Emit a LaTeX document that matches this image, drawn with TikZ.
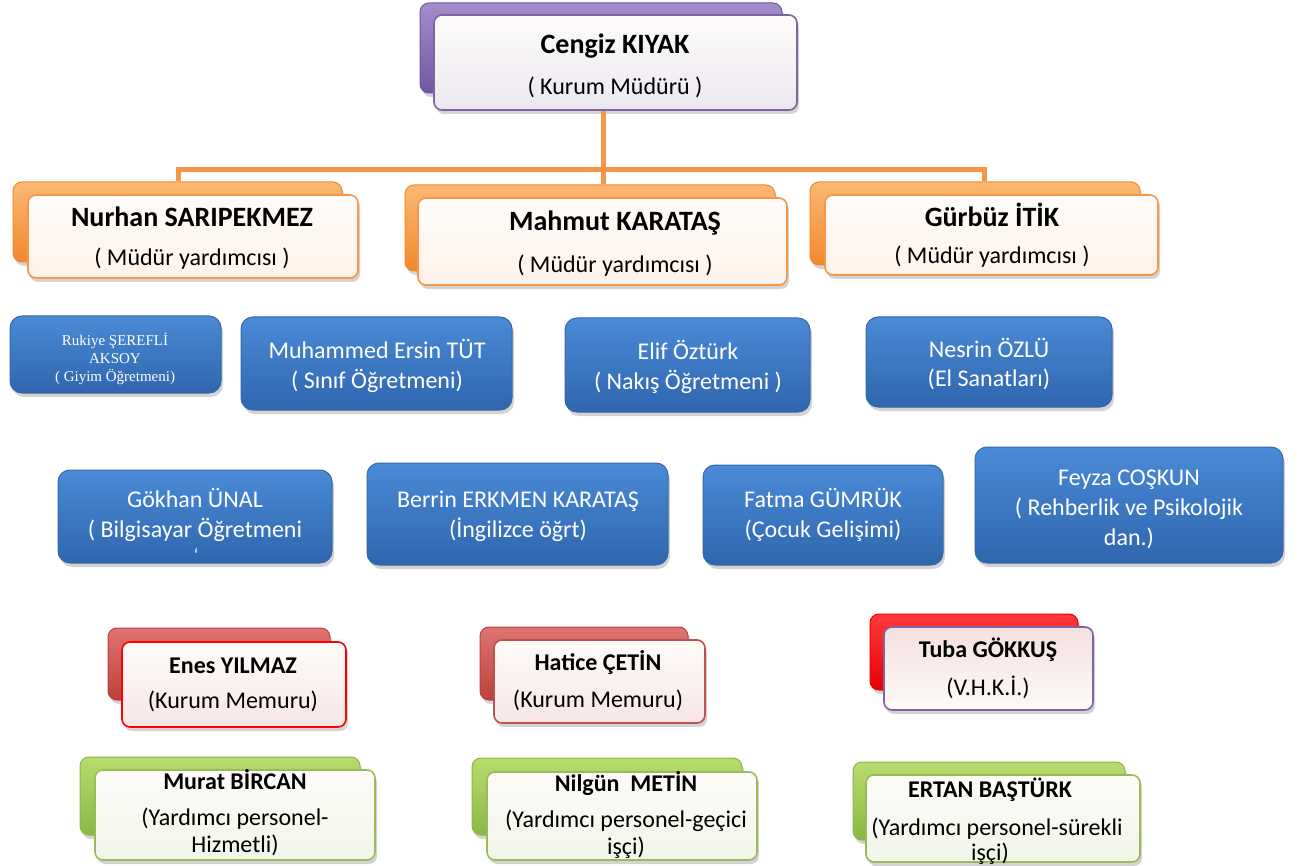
\documentclass[tikz,border=0pt]{standalone}
\usepackage{fontspec}
\setmainfont{Carlito}
\newfontfamily\timesfont{Liberation Serif}
\usetikzlibrary{shadows}
\definecolor{blueT}{HTML}{4A8AD6}
\definecolor{blueD}{HTML}{2F66AE}
\definecolor{blueE}{HTML}{3767A8}
\definecolor{purT}{HTML}{A58DCB}
\definecolor{purD}{HTML}{7156A3}
\definecolor{purE}{HTML}{8064A2}
\definecolor{orT}{HTML}{FBB874}
\definecolor{orD}{HTML}{F2882E}
\definecolor{orE}{HTML}{F79646}
\definecolor{redT}{HTML}{DE7471}
\definecolor{redD}{HTML}{BD403D}
\definecolor{redE}{HTML}{C0504D}
\definecolor{brT}{HTML}{FF3A3A}
\definecolor{brD}{HTML}{E80000}
\definecolor{grT}{HTML}{B8DC6E}
\definecolor{grD}{HTML}{88B843}
\definecolor{grE}{HTML}{9BBB59}
\definecolor{frW}{HTML}{FDFBF9}
\tikzset{
  x=1pt, y=-1pt,
  conn/.style={draw=orE, line width=5pt},
  shad/.style={drop shadow={opacity=0.35, shadow xshift=2pt, shadow yshift=-4pt}},
  bluebox/.style={shape=rectangle, rounded corners=12pt, draw=blueE, line width=1pt,
    top color=blueT, bottom color=blueD, inner sep=0pt, shad},
  backbox/.style={shape=rectangle, rounded corners=9pt, line width=1pt, inner sep=0pt, shad},
  frontbox/.style={shape=rectangle, rounded corners=8pt, line width=1.6pt, inner sep=0pt, shad},
  wt/.style={text=white, anchor=mid, inner sep=0pt, yshift=-5pt, font=\fontsize{24}{28}\selectfont},
  bt/.style={text=black, anchor=mid, inner sep=0pt, yshift=-6pt, font=\bfseries\fontsize{28}{32}\selectfont},
  rt/.style={text=black, anchor=mid, inner sep=0pt, yshift=-5pt, font=\fontsize{24}{28}\selectfont},
  bs/.style={text=black, anchor=mid, inner sep=0pt, yshift=-5pt, font=\bfseries\fontsize{24}{28}\selectfont},
  tt/.style={text=white, anchor=mid, inner sep=0pt, yshift=-3pt, font=\timesfont\fontsize{15}{18}\selectfont},
}
\begin{document}
\begin{tikzpicture}
\useasboundingbox (0,0) rectangle (1300,866);
% connectors
\coordinate (j0) at (603,170);
\coordinate (jl) at (178,170);
\coordinate (jr) at (984,170);
\node[backbox, top color=orT, bottom color=orD, draw=orD, minimum width=370pt, minimum height=86pt] (mah-b) at (590,228) {};
\node[backbox, top color=orT, bottom color=orD, draw=orD, minimum width=329pt, minimum height=80pt] (nur-b) at (177.5,222) {};
\node[backbox, top color=orT, bottom color=orD, draw=orD, minimum width=330pt, minimum height=83pt] (gur-b) at (975,223.5) {};
\node[backbox, top color=purT, bottom color=purD, draw=purD, minimum width=362pt, minimum height=90pt] (cen-b) at (601,48) {};
\node[frontbox, draw=purE, top color=frW, bottom color=purE!15, minimum width=363pt, minimum height=95pt] (cen-f) at (615.5,62.5) {};
\draw[conn] (cen-f.south -| j0) -- (j0 |- mah-b.north);
\draw[conn] (jl |- nur-b.north) -- (jl) -- (jr) -- (jr |- gur-b.north);
\node[bt] (cen-t1) at (615,45) {Cengiz KIYAK};
\node[rt] (cen-t2) at (615,87) {( Kurum Müdürü )};
% level 2
\node[frontbox, draw=orE, top color=frW, bottom color=orE!12, minimum width=330pt, minimum height=83pt] (nur-f) at (193,236.5) {};
\node[bt] (nur-t1) at (192,218) {Nurhan SARIPEKMEZ};
\node[rt] (nur-t2) at (192,258) {( Müdür yardımcısı )};
\node[frontbox, draw=orE, top color=frW, bottom color=orE!12, minimum width=369pt, minimum height=87pt] (mah-f) at (602.5,241.5) {};
\node[bt] (mah-t1) at (615,222) {Mahmut KARATAŞ};
\node[rt] (mah-t2) at (615,265) {( Müdür yardımcısı )};
\node[frontbox, draw=orE, top color=frW, bottom color=orE!12, minimum width=333pt, minimum height=80pt] (gur-f) at (991.5,235) {};
\node[bt] (gur-t1) at (992,218) {Gürbüz İTİK};
\node[rt] (gur-t2) at (992,256) {( Müdür yardımcısı )};
% blue row 1
\node[bluebox, minimum width=211pt, minimum height=77pt] (ruk) at (115.5,354.5) {};
\node[tt] (ruk-t1) at (115,340) {Rukiye ŞEREFLİ};
\node[tt] (ruk-t2) at (115,358) {AKSOY};
\node[tt] (ruk-t3) at (115,376) {( Giyim Öğretmeni)};
\node[bluebox, minimum width=271pt, minimum height=93pt] (muh) at (376.5,363.5) {};
\node[wt] (muh-t1) at (377,351) {Muhammed Ersin TÜT};
\node[wt] (muh-t2) at (377,381) {( Sınıf Öğretmeni)};
\node[bluebox, minimum width=245pt, minimum height=94pt] (eli) at (687.5,365) {};
\node[wt] (eli-t1) at (688,352) {Elif Öztürk};
\node[wt] (eli-t2) at (688,382) {( Nakış Öğretmeni )};
\node[bluebox, minimum width=246pt, minimum height=90pt] (nes) at (989,362) {};
\node[wt] (nes-t1) at (989,350) {Nesrin ÖZLÜ};
\node[wt] (nes-t2) at (989,379) {(El Sanatları)};
% blue row 2
\node[bluebox, minimum width=274pt, minimum height=93pt] (gok) at (195,516.5) {};
\node[wt] (gok-t1) at (195,500) {Gökhan ÜNAL};
\node[wt] (gok-t2) at (195,530) {( Bilgisayar Öğretmeni};
\node[wt, font=\fontsize{18}{20}\selectfont] (gok-t3) at (196,554) {`};
\node[bluebox, minimum width=301pt, minimum height=102pt] (ber) at (517.5,514) {};
\node[wt] (ber-t1) at (518,500) {Berrin ERKMEN KARATAŞ};
\node[wt] (ber-t2) at (518,530) {(İngilizce öğrt)};
\node[bluebox, minimum width=240pt, minimum height=100pt] (fat) at (823,515) {};
\node[wt] (fat-t1) at (823,500) {Fatma GÜMRÜK};
\node[wt] (fat-t2) at (823,530) {(Çocuk Gelişimi)};
\node[bluebox, minimum width=308pt, minimum height=116pt] (fey) at (1129,505) {};
\node[wt] (fey-t1) at (1129,478) {Feyza COŞKUN};
\node[wt] (fey-t2) at (1129,508) {( Rehberlik ve Psikolojik};
\node[wt] (fey-t3) at (1129,538) {dan.)};
% red row
\node[backbox, top color=redT, bottom color=redD, draw=redD, minimum width=222pt, minimum height=72pt] (ene-b) at (219,664) {};
\node[frontbox, draw=red, top color=frW, bottom color=redE!14, minimum width=224pt, minimum height=85pt] (ene-f) at (234,684.5) {};
\node[bs] (ene-t1) at (233,666) {Enes YILMAZ};
\node[rt] (ene-t2) at (233,701) {(Kurum Memuru)};
\node[backbox, top color=redT, bottom color=redD, draw=redD, minimum width=208pt, minimum height=73pt] (hat-b) at (584,663.5) {};
\node[frontbox, draw=redE, top color=frW, bottom color=redE!14, minimum width=211pt, minimum height=83pt] (hat-f) at (599.5,681.5) {};
\node[bs] (hat-t1) at (598,663) {Hatice ÇETİN};
\node[rt] (hat-t2) at (598,700) {(Kurum Memuru)};
\node[backbox, top color=brT, bottom color=brD, draw=brD, minimum width=208pt, minimum height=76pt] (tub-b) at (974,652) {};
\node[frontbox, draw=purE, top color=redE!18, bottom color=frW, minimum width=209pt, minimum height=83pt] (tub-f) at (988.5,668.5) {};
\node[bs] (tub-t1) at (988,650) {Tuba GÖKKUŞ};
\node[rt] (tub-t2) at (988,688) {(V.H.K.İ.)};
% green row
\node[backbox, top color=grT, bottom color=grD, draw=grD, minimum width=280pt, minimum height=78pt] (mur-b) at (220,796) {};
\node[frontbox, draw=grE, top color=frW, bottom color=grE!14, minimum width=280pt, minimum height=90pt] (mur-f) at (235,815) {};
\node[bs] (mur-t1) at (235,782) {Murat BİRCAN};
\node[rt] (mur-t2) at (235,818) {(Yardımcı personel-};
\node[rt] (mur-t3) at (235,845) {Hizmetli)};
\node[backbox, top color=grT, bottom color=grD, draw=grD, minimum width=270pt, minimum height=77pt] (nil-b) at (607,796.5) {};
\node[frontbox, draw=grE, top color=frW, bottom color=grE!14, minimum width=270pt, minimum height=88pt] (nil-f) at (622,816) {};
\node[bs] (nil-t1) at (626,784) {Nilgün\ \ METİN};
\node[rt] (nil-t2) at (626,820) {(Yardımcı personel-geçici};
\node[rt] (nil-t3) at (626,847) {işçi)};
\node[backbox, top color=grT, bottom color=grD, draw=grD, minimum width=272pt, minimum height=78pt] (ert-b) at (989,801) {};
\node[frontbox, draw=grE, top color=frW, bottom color=grE!14, minimum width=274pt, minimum height=87pt] (ert-f) at (1003,818.5) {};
\node[bs] (ert-t1) at (990,790) {ERTAN BAŞTÜRK};
\node[rt] (ert-t2) at (997,828) {(Yardımcı personel-sürekli};
\node[rt] (ert-t3) at (990,853) {işçi)};
\end{tikzpicture}
\end{document}
